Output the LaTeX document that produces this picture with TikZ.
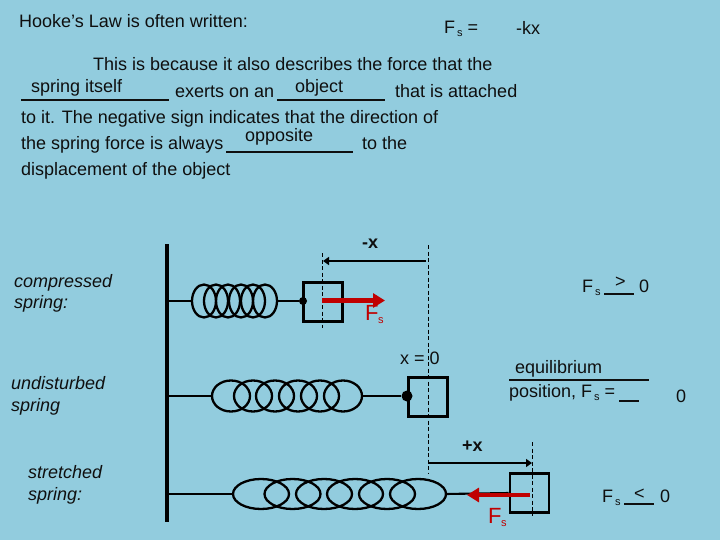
\documentclass[tikz,border=0pt]{standalone}
\usepackage{fontspec}
\setmainfont{Liberation Sans}
\usetikzlibrary{arrows.meta}
\definecolor{bgblue}{RGB}{146,204,222}
\definecolor{forcered}{RGB}{192,0,0}
\definecolor{ink}{RGB}{15,15,15}
\newcommand{\Fsub}{F\kern2pt\raisebox{-3pt}{\fontsize{11}{11}\selectfont s}}
\tikzset{
  txt/.style={inner sep=0pt,anchor=base west,text=ink,font=\fontsize{18}{18}\selectfont},
  ital/.style={txt,font=\fontsize{18}{18}\selectfont\itshape},
  bld/.style={txt,font=\fontsize{18}{18}\selectfont\bfseries},
  rlab/.style={inner sep=0pt,anchor=base west,text=forcered,font=\fontsize{22}{22}\selectfont},
  rsub/.style={inner sep=0pt,anchor=base west,text=forcered,font=\fontsize{11}{11}\selectfont},
  blank/.style={draw=ink,line width=2pt},
  wallline/.style={draw=black,line width=3.2pt},
  coil/.style={draw=black,line width=2.3pt},
  rod/.style={draw=black,line width=2.1pt},
  block/.style={draw=black,line width=2.6pt,inner sep=0pt,minimum width=39pt,minimum height=39pt,fill=none},
  guide/.style={draw=black,line width=0.9pt,dash pattern=on 4pt off 2.5pt},
  disp/.style={draw=black,line width=2.6pt,-{Triangle[length=6pt,width=8pt]}},
  force/.style={draw=forcered,line width=4.6pt,-{Triangle[length=12pt,width=14pt]}},
  pin/.style={circle,fill=black,inner sep=0pt,minimum size=8pt},
}
\begin{document}
\begin{tikzpicture}[x=1pt,y=-1pt]
\path[use as bounding box,fill=bgblue] (0,0) rectangle (720,540);

% heading text
\node[txt] (t0) at (19,27.5) {Hooke's Law is often written:};
\node[txt] (t1) at (444,34) {\Fsub\ =};
\node[txt] (t2) at (516,35) {-kx};
\node[txt] (l1) at (93,71) {This is because it also describes the force that the};
\node[txt] (l2a) at (31,93) {spring itself};
\node[txt] (l2b) at (175,98) {exerts on an};
\node[txt] (l2c) at (295,93) {object};
\node[txt] (l2d) at (395,98) {that is attached};
\node[txt] (l3) at (21,124) {to it.  The negative sign indicates that the direction of};
\node[txt] (l4a) at (21,150) {the spring force is always};
\node[txt] (l4b) at (245,142) {opposite};
\node[txt] (l4c) at (362,150) {to the};
\node[txt] (l5) at (21,176) {displacement of the object};
\coordinate (u1a) at (21,100); \coordinate (u1b) at (169,100);
\coordinate (u2a) at (277,100); \coordinate (u2b) at (385,100);
\coordinate (u3a) at (226,152); \coordinate (u3b) at (353,152);
\draw[blank] (u1a) -- (u1b);
\draw[blank] (u2a) -- (u2b);
\draw[blank] (u3a) -- (u3b);

% side labels
\node[ital] (c1) at (14,287) {compressed};
\node[ital] (c2) at (14,308) {spring:};
\node[ital] (d1) at (11,389) {undisturbed};
\node[ital] (d2) at (11,411) {spring};
\node[ital] (s1) at (28,478.5) {stretched};
\node[ital] (s2) at (28,500) {spring:};

% wall
\coordinate (wt) at (167,244); \coordinate (wb) at (167,522);
\draw[wallline] (wt) -- (wb);

% guides
\coordinate (g1a) at (322,253); \coordinate (g1b) at (322,328);
\coordinate (g2a) at (428,245); \coordinate (g2b) at (428,473);
\coordinate (g3a) at (532,442); \coordinate (g3b) at (532,516);
\draw[guide] (g1a) -- (g1b);
\draw[guide] (g2a) -- (g2b);
\draw[guide] (g3a) -- (g3b);

% compressed
\foreach \cx in {204,216,228,241,253,265} \draw[coil] (\cx,301) ellipse (12 and 16.5);
\node[block] (b1) at (323,302) {};
\node[pin] (p1) at (303,301) {};
\coordinate (w1) at (167,301); \coordinate (sc1a) at (192,301); \coordinate (sc1b) at (277,301);
\draw[rod] (w1) -- (sc1a);
\draw[rod] (sc1b) -- (p1);
\coordinate (d1a) at (426,261); \coordinate (d1b) at (323,261);
\draw[disp] (d1a) -- (d1b);
\node[bld] (mx) at (362,248.5) {-x};
\coordinate (f1a) at (322,300.5); \coordinate (f1b) at (385,300.5);
\draw[force] (f1a) -- (f1b);
\node[rlab] (fs1) at (365,320) {F};
\node[rsub] (fs1s) at (378,323) {s};

% undisturbed
\foreach \cx in {231,253,275,298,320,343} \draw[coil] (\cx,396) ellipse (19 and 15.5);
\node[block] (b2) at (428,397) {};
\node[pin,minimum width=11pt,minimum height=7pt] (p2) at (407,396) {};
\coordinate (w2) at (167,396); \coordinate (sc2a) at (212,396); \coordinate (sc2b) at (362,396);
\draw[rod] (w2) -- (sc2a);
\draw[rod] (sc2b) -- (p2);
\node[txt] (x0) at (400,364) {x = 0};

% stretched
\foreach \cx in {261,292.5,324,355,387,418} \draw[coil] (\cx,494) ellipse (28 and 15);
\node[block] (b3) at (529.5,493) {};
\coordinate (w3) at (167,494); \coordinate (sc3a) at (233,494); \coordinate (sc3b) at (446,494);
\draw[rod] (w3) -- (sc3a);
\draw[rod] (sc3b) -- (b3.west);
\coordinate (d3a) at (428,463); \coordinate (d3b) at (532,463);
\draw[disp] (d3a) -- (d3b);
\node[bld] (px) at (462,451) {+x};
\coordinate (f3a) at (530,495); \coordinate (f3b) at (467,495);
\draw[force] (f3a) -- (f3b);
\node[rlab] (fs3) at (488,523) {F};
\node[rsub] (fs3s) at (501,526) {s};

% right hand notes
\node[txt] (r1) at (582,292) {\Fsub};
\node[txt] (r1g) at (615,287) {>};
\node[txt] (r1z) at (639,292) {0};
\coordinate (r1a) at (604,294); \coordinate (r1b) at (634,294);
\draw[blank] (r1a) -- (r1b);

\node[txt] (r2a) at (515,373) {equilibrium};
\coordinate (r2l) at (509,380); \coordinate (r2r) at (649,380);
\draw[blank] (r2l) -- (r2r);
\node[txt] (r2b) at (509,397) {position, \Fsub\ =};
\coordinate (r2u) at (619,401); \coordinate (r2v) at (639,401);
\draw[blank] (r2u) -- (r2v);
\node[txt] (r2z) at (676,402) {0};

\node[txt] (r3) at (602,502) {\Fsub};
\node[txt] (r3g) at (634,499) {<};
\node[txt] (r3z) at (660,502) {0};
\coordinate (r3a) at (624,504); \coordinate (r3b) at (654,504);
\draw[blank] (r3a) -- (r3b);
\end{tikzpicture}
\end{document}
